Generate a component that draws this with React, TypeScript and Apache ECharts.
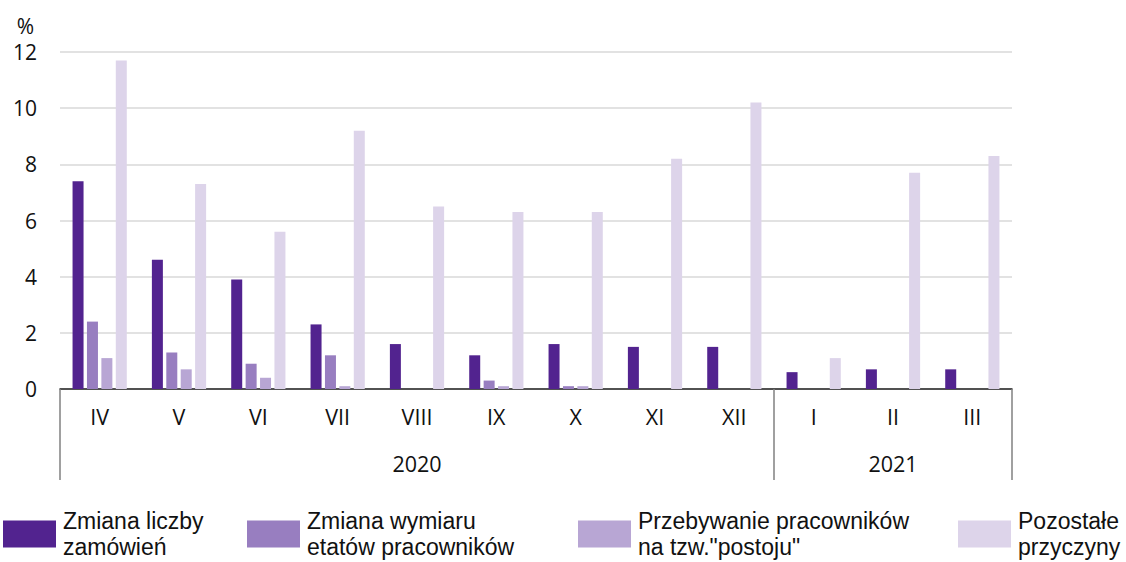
import React, { useEffect, useRef } from "react";
import * as echarts from "echarts";

const months = ["IV", "V", "VI", "VII", "VIII", "IX", "X", "XI", "XII", "I", "II", "III"];
const yearLabels = ["", "", "", "", "2020", "", "", "", "", "", "2021", ""];
const seriesNames = [
  "Zmiana liczby\nzamówień",
  "Zmiana wymiaru\netatów pracowników",
  "Przebywanie pracowników\nna tzw.\"postoju\"",
  "Pozostałe\nprzyczyny",
];
const zamowien = [7.4, 4.6, 3.9, 2.3, 1.6, 1.2, 1.6, 1.5, 1.5, 0.6, 0.7, 0.7];
const wymiaru = [2.4, 1.3, 0.9, 1.2, 0, 0.3, 0.1, 0, 0, 0, 0, 0];
const postoju = [1.1, 0.7, 0.4, 0.1, 0, 0.1, 0.1, 0, 0, 0, 0, 0];
const pozostale = [11.7, 7.3, 5.6, 9.2, 6.5, 6.3, 6.3, 8.2, 10.2, 1.1, 7.7, 8.3];
const yTicks = { min: 0, max: 12, interval: 2 };

const colors = ["#52238f", "#987ec0", "#b8a6d4", "#ddd4ea"];
const FONT = "'Open Sans', 'Noto Sans', sans-serif";
const LEGEND_FONT = "'Liberation Sans', Arial, sans-serif";
const boundaries = [0, 9];

export default function App() {
  const ref = useRef<HTMLDivElement>(null);
  useEffect(() => {
    if (!ref.current) return;
    const chart = echarts.init(ref.current, undefined, { renderer: "svg" });
    const data = [zamowien, wymiaru, postoju, pozostale];
    const legendLefts = [3, 247, 578, 958];
    chart.setOption({
      animation: false,
      textStyle: { fontFamily: FONT },
      grid: { left: 60, right: 114, top: 52, bottom: 173, containLabel: false },
      legend: seriesNames.map((n, i) => ({
        data: [n],
        left: legendLefts[i],
        top: 508,
        padding: 0,
        itemWidth: 53,
        itemHeight: 27,
        itemGap: 0,
        icon: "rect",
        selectedMode: false,
        textStyle: { fontSize: 23, lineHeight: 26, color: "#111", fontFamily: LEGEND_FONT, padding: [0, 0, 0, 2] },
      })),
      xAxis: [
        {
          type: "category",
          data: months,
          position: "bottom",
          axisLine: { show: true, lineStyle: { color: "#222", width: 1.5 } },
          axisTick: {
            show: true,
            length: 91,
            interval: (idx: number) => boundaries.includes(idx),
            lineStyle: { color: "#808080", width: 1.5 },
          },
          axisLabel: { interval: 0, margin: 16, fontSize: 21.5, color: "#111", fontFamily: FONT },
        },
        {
          type: "category",
          data: yearLabels,
          position: "bottom",
          offset: 44,
          axisLine: { show: false },
          axisTick: { show: false },
          axisLabel: { interval: 0, margin: 19, fontSize: 21.5, color: "#111", fontFamily: FONT },
        },
      ],
      yAxis: {
        type: "value",
        min: yTicks.min,
        max: yTicks.max,
        interval: yTicks.interval,
        name: "%",
        nameLocation: "end",
        nameGap: 16,
        nameTextStyle: { fontSize: 21, color: "#111", align: "right", padding: [0, 26, 0, 0], fontFamily: FONT },
        axisLine: { show: false },
        axisTick: { show: false },
        axisLabel: { margin: 23, fontSize: 21, color: "#111", fontFamily: FONT },
        splitLine: { lineStyle: { color: "#d9d9d9", width: 1.5 } },
      },
      series: seriesNames.map((n, i) => ({
        name: n,
        type: "bar",
        data: data[i],
        barWidth: 11,
        barGap: "31%",
        itemStyle: { color: colors[i] },
      })),
    });
    return () => chart.dispose();
  }, []);
  return (
    <div
      ref={ref}
      style={{ position: "fixed", left: 0, top: 0, width: 1126, height: 562, background: "#fff" }}
    />
  );
}
